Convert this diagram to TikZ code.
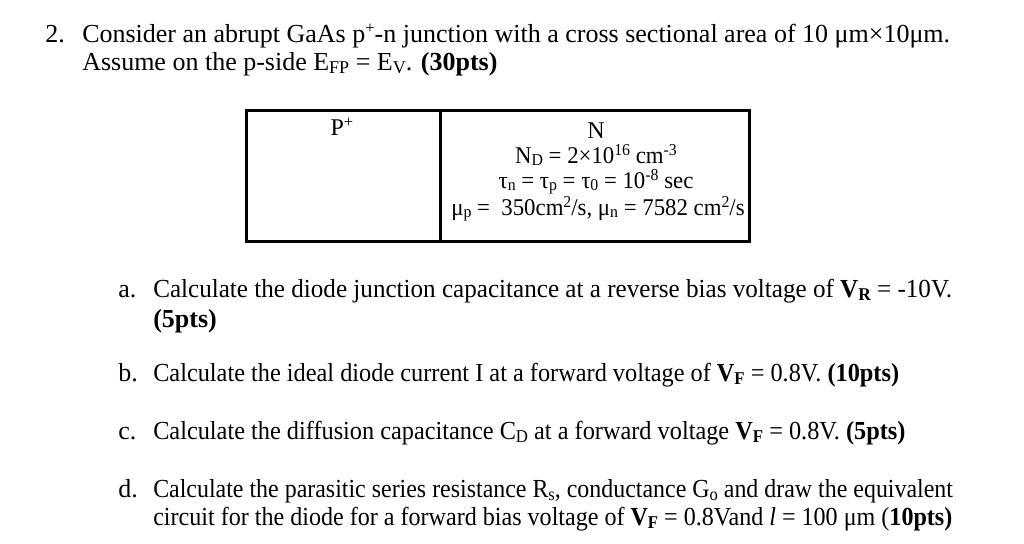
\documentclass[tikz,border=0pt]{standalone}
\usepackage{fontspec}
\setmainfont{Liberation Serif}
\newcommand{\lsub}[1]{\raisebox{-0.3ex}{\fontsize{13.5}{14}\selectfont #1}}
\newcommand{\tsub}[1]{\raisebox{-0.2ex}{\fontsize{12.5}{13}\selectfont #1}}
\newcommand{\lsup}[1]{\raisebox{0.7ex}{\fontsize{12.5}{14}\selectfont #1}}
\newcommand{\hs}[2]{\scalebox{#1}[1]{#2}}
\begin{document}
\begin{tikzpicture}[x=0.75pt,y=-0.75pt,
  t/.style={anchor=base west,inner sep=0pt,font=\fontsize{19.5}{22}\selectfont},
  c/.style={anchor=base,inner sep=0pt,font=\fontsize{18}{22}\selectfont},
  box/.style={draw,line width=2.2pt,anchor=north west,inner sep=0pt,minimum height=131*0.75pt}]
\useasboundingbox (0,0) rectangle (1024,543);
\node[t] (n2) at (45,42) {2.};
\node[t] (l1) at (82,42) {Consider an abrupt GaAs p\lsup{+}-n junction with a cross sectional area of 10 μm×10μm.};
\node[t] (l2) at (82,70) {Assume on the p-side E\lsub{FP} = E\lsub{V}. \textbf{(30pts)}};
\node[box,minimum width=194*0.75pt] (bp) at (245,109) {};
\node[box,minimum width=309*0.75pt] (bn) at (439,109) {};
\node[c] (pp) at (342,135) {P\lsup{+}};
\node[c] (n1) at (596,138) {N};
\node[c] (n3) at (596,163) {\hs{0.95}{N\tsub{D} = 2×10\lsup{16} cm\lsup{-3}}};
\node[c] (n4) at (596,188) {\hs{0.95}{τ\tsub{n} = τ\tsub{p} = τ\tsub{0} = 10\lsup{-8} sec}};
\node[c] (n5) at (598,215) {\hs{0.95}{μ\tsub{p} = \ 350cm\lsup{2}/s, μ\tsub{n} = 7582 cm\lsup{2}/s}};
\node[t] (a) at (118,297) {a.};
\node[t] (at) at (153,297) {\hs{0.966}{Calculate the diode junction capacitance at a reverse bias voltage of \textbf{V\lsub{R}} = -10V.}};
\node[t] (at2) at (153,327) {\textbf{(5pts)}};
\node[t] (b) at (118,381) {b.};
\node[t] (bt) at (153,381) {\hs{0.935}{Calculate the ideal diode current I at a forward voltage of \textbf{V\lsub{F}} = 0.8V. \textbf{(10pts)}}};
\node[t] (c) at (118,439) {c.};
\node[t] (ct) at (153,439) {\hs{0.935}{Calculate the diffusion capacitance C\lsub{D} at a forward voltage \textbf{V\lsub{F}} = 0.8V. \textbf{(5pts)}}};
\node[t] (d) at (118,497) {d.};
\node[t] (dt) at (153,497) {\hs{0.92}{Calculate the parasitic series resistance R\lsub{s}, conductance G\lsub{o} and draw the equivalent}};
\node[t] (dt2) at (153,525) {\hs{0.926}{circuit for the diode for a forward bias voltage of \textbf{V\lsub{F}} = 0.8Vand \textit{l} = 100 μm (\textbf{10pts)}}};
\end{tikzpicture}
\end{document}
